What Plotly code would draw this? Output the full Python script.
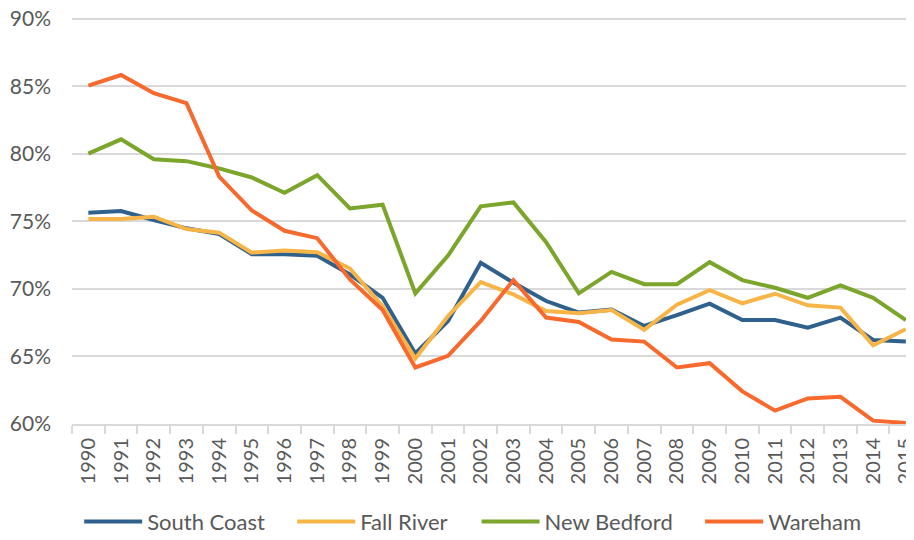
import plotly.graph_objects as go

years = [str(y) for y in range(1990, 2016)]

south_coast = [75.64, 75.76, 75.10, 74.48, 74.06, 72.56, 72.56, 72.44, 71.06, 69.33,
               65.20, 67.61, 71.92, 70.44, 69.09, 68.23, 68.45, 67.24, 68.05, 68.89,
               67.68, 67.68, 67.12, 67.86, 66.20, 66.08]
fall_river = [75.17, 75.17, 75.34, 74.43, 74.16, 72.68, 72.83, 72.71, 71.50, 68.70,
              64.83, 67.98, 70.49, 69.58, 68.35, 68.18, 68.42, 66.95, 68.82, 69.90,
              68.92, 69.63, 68.77, 68.60, 65.81, 67.00]
new_bedford = [80.02, 81.08, 79.60, 79.46, 78.92, 78.25, 77.12, 78.42, 75.95, 76.23,
               69.66, 72.46, 76.11, 76.40, 73.45, 69.66, 71.25, 70.34, 70.34, 71.97,
               70.64, 70.07, 69.33, 70.25, 69.33, 67.68]
wareham = [85.06, 85.85, 84.50, 83.76, 78.32, 75.80, 74.30, 73.75, 70.69, 68.42,
           64.16, 65.02, 67.61, 70.64, 67.86, 67.54, 66.23, 66.08, 64.16, 64.48,
           62.39, 60.96, 61.87, 61.99, 60.22, 60.05]

y_ticks = [60, 65, 70, 75, 80, 85, 90]
y_tick_labels = ["60%", "65%", "70%", "75%", "80%", "85%", "90%"]

series = [
    ("South Coast", south_coast, "#2F618C"),
    ("Fall River", fall_river, "#F7B548"),
    ("New Bedford", new_bedford, "#7BA52B"),
    ("Wareham", wareham, "#F7692D"),
]
legend_x = [0.0085, 0.2615, 0.4805, 0.746]

FONT = "Lato, 'Open Sans', sans-serif"
GREY = "#595959"

fig = go.Figure()
legend_layout = {}
for i, (name, vals, color) in enumerate(series):
    key = "legend" if i == 0 else f"legend{i + 1}"
    fig.add_trace(go.Scatter(x=years, y=vals, name=name, mode="lines",
                             line=dict(color=color, width=4), legend=key))
    legend_layout[key] = dict(orientation="h", x=legend_x[i], xanchor="left",
                              y=-0.24, yanchor="middle", itemwidth=58,
                              bgcolor="rgba(0,0,0,0)",
                              font=dict(family=FONT, size=22, color=GREY))

fig.update_layout(
    width=906, height=532,
    margin=dict(l=64, r=0, t=9, b=116, autoexpand=False),
    paper_bgcolor="white", plot_bgcolor="white",
    font=dict(family=FONT, size=20, color=GREY),
    showlegend=True,
    **legend_layout,
)
fig.update_xaxes(type="category", range=[-0.5, 25.25], showgrid=False,
                 showline=True, linecolor="#D9D9D9", linewidth=2,
                 ticks="outside", tickson="boundaries", ticklen=8, tickcolor="#D9D9D9",
                 tickwidth=1.5, tickangle=-90, tickfont=dict(size=20, color=GREY),
                 ticklabelstandoff=4, ticklabeloverflow="allow")
fig.update_yaxes(range=[59.97, 90.15], tickvals=y_ticks, ticktext=y_tick_labels,
                 showgrid=True, gridcolor="#D9D9D9", gridwidth=1.5, zeroline=False,
                 showline=False, tickfont=dict(size=21, color=GREY),
                 ticklabelstandoff=20, ticklabeloverflow="allow")

fig.write_html("out.html")
